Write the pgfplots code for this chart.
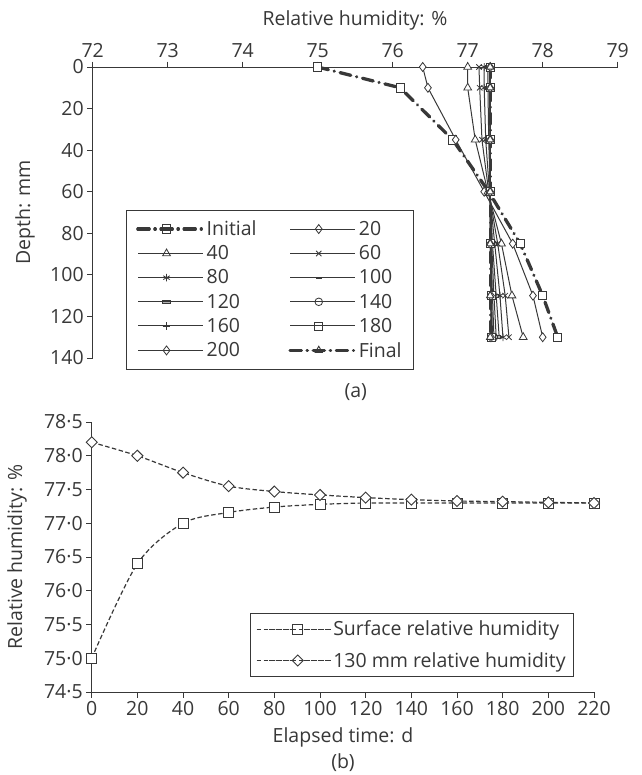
\documentclass[border=0pt]{standalone}
\usepackage{pgfplots}
\pgfplotsset{compat=1.18}
\usepackage{fontspec}
\setmainfont{Open Sans}
\usetikzlibrary{plotmarks}
\definecolor{dg}{HTML}{383838}
\newcommand\fs{\fontsize{19.5}{21}\selectfont}
\pgfplotsset{
  ser/.style={draw=dg, line width=1pt, mark options={solid, fill=white, draw=dg, line width=0.8pt}},
  thick/.style={draw=dg, line width=3.3pt, line cap=round, dash pattern=on 11pt off 6pt on 0.1pt off 6pt, mark size=4.2pt, mark options={solid, fill=white, draw=dg, line width=0.9pt}},
  bser/.style={draw=dg, line width=1.2pt, dash pattern=on 4.5pt off 2.5pt, smooth},
}
\begin{document}
\begin{tikzpicture}[font=\fs,color=dg]
\useasboundingbox (0pt,0pt) rectangle (641pt,-775pt);
% ---------------- (a) ----------------
\begin{axis}[
  at={(92.7pt,-67pt)}, anchor=north west,
  scale only axis, width=525pt, height=291pt,
  xmin=72, xmax=79, ymin=0, ymax=140, y dir=reverse,
  axis x line*=top, axis y line*=left,
  xtick={72,73,...,79}, ytick={0,20,...,140},
  tick align=outside, major tick length=5.5pt,
  axis line style={line width=0.9pt, draw=dg},
  every tick/.style={line width=0.9pt, draw=dg},
  tick label style={font=\fs, text=dg},
  /pgf/number format/assume math mode=true,
  clip=false,
  legend columns=2,
  legend cell align=left,
  legend image code/.code={\draw[mark repeat=2,mark phase=2,#1] plot coordinates {(0pt,0pt)(28.5pt,0pt)(57pt,0pt)}; \path (0pt,0pt) -- (65pt,0pt);},
  legend style={at={(axis description cs:0.0634,0.5086)}, anchor=north west, draw=dg, line width=0.8pt, font=\fs, text=dg, inner xsep=10pt, inner ysep=8.5pt, row sep=4.5pt, nodes={inner sep=2pt}, /tikz/every even column/.append style={column sep=30pt}},
]
\addplot[thick, mark=square*] coordinates {(75.0,0)(76.1,10)(76.8,35)(77.28,60)(77.7,85)(78.0,110)(78.2,130)};
\addlegendentry{Initial}
\addplot[ser, mark=diamond*, mark size=4.5pt] coordinates {(76.4,0)(76.47,10)(76.84,35)(77.22,60)(77.6,85)(77.87,110)(78.0,130)};
\addlegendentry{20}
\addplot[ser, mark=triangle*, mark size=4.5pt] coordinates {(77.0,0)(77.0,10)(77.1,35)(77.27,60)(77.45,85)(77.59,110)(77.74,130)};
\addlegendentry{40}
\addplot[ser, mark=x, mark size=3.8pt] coordinates {(77.15,0)(77.16,10)(77.19,35)(77.28,60)(77.4,85)(77.5,110)(77.55,130)};
\addlegendentry{60}
\addplot[ser, mark=asterisk, mark size=3.8pt] coordinates {(77.22,0)(77.22,10)(77.24,35)(77.29,60)(77.36,85)(77.43,110)(77.47,130)};
\addlegendentry{80}
\addplot[ser, mark=-, mark size=3pt, mark options={solid, draw=dg, line width=2pt}] coordinates {(77.27,0)(77.27,10)(77.28,35)(77.3,60)(77.33,85)(77.38,110)(77.42,130)};
\addlegendentry{100}
\addplot[ser, mark=square*, mark size=3pt, mark options={solid, draw=dg, line width=0.8pt, xscale=1.4, yscale=0.45, fill=gray!60}] coordinates {(77.29,0)(77.29,10)(77.3,35)(77.3,60)(77.32,85)(77.35,110)(77.38,130)};
\addlegendentry{120}
\addplot[ser, mark=o, mark size=3.8pt] coordinates {(77.3,0)(77.3,10)(77.3,35)(77.3,60)(77.31,85)(77.33,110)(77.35,130)};
\addlegendentry{140}
\addplot[ser, mark=+, mark size=3.8pt] coordinates {(77.3,0)(77.3,10)(77.3,35)(77.3,60)(77.31,85)(77.32,110)(77.33,130)};
\addlegendentry{160}
\addplot[ser, mark=square*, mark size=4pt] coordinates {(77.3,0)(77.3,10)(77.3,35)(77.3,60)(77.3,85)(77.31,110)(77.32,130)};
\addlegendentry{180}
\addplot[ser, mark=diamond*, mark size=4.5pt] coordinates {(77.3,0)(77.3,10)(77.3,35)(77.3,60)(77.3,85)(77.31,110)(77.31,130)};
\addlegendentry{200}
\addplot[thick, mark=triangle*] coordinates {(77.3,0)(77.3,10)(77.3,35)(77.3,60)(77.3,85)(77.3,110)(77.3,130)};
\addlegendentry{Final}
\end{axis}
\node at (355pt,-20pt) {Relative humidity: \%};
\node[rotate=90] at (25pt,-212.5pt) {Depth: mm};
\node at (355.7pt,-392pt) {(a)};
% ---------------- (b) ----------------
\begin{axis}[
  at={(91.7pt,-692pt)}, anchor=south west,
  scale only axis, width=502.3pt, height=270pt,
  xmin=0, xmax=220, ymin=74.5, ymax=78.5,
  axis x line*=bottom, axis y line*=left,
  xtick={0,20,...,220},
  ytick={74.5,75,75.5,76,76.5,77,77.5,78,78.5},
  yticklabels={74·5,75·0,75·5,76·0,76·5,77·0,77·5,78·0,78·5},
  tick align=outside, major tick length=5.5pt,
  axis line style={line width=0.9pt, draw=dg},
  every tick/.style={line width=0.9pt, draw=dg},
  tick label style={font=\fs, text=dg},
  /pgf/number format/assume math mode=true,
  clip=false,
  legend cell align=left,
  legend image code/.code={\draw[mark repeat=2,mark phase=2,#1] plot coordinates {(0pt,0pt)(29pt,0pt)(58pt,0pt)}; \path (-12pt,0pt) -- (62pt,0pt);},
  legend style={at={(axis description cs:0.9602,0.2926)}, anchor=north east, draw=dg, line width=0.8pt, font=\fs, text=dg, inner xsep=6pt, inner ysep=5.5pt, row sep=11pt, nodes={inner sep=2pt}},
]
\addplot[bser, mark=square*, mark size=5pt, mark options={solid, fill=white, draw=dg, line width=0.9pt}] coordinates {(0,75.0)(20,76.4)(40,77.0)(60,77.16)(80,77.24)(100,77.28)(120,77.3)(140,77.3)(160,77.3)(180,77.3)(200,77.3)(220,77.3)};
\addlegendentry{Surface relative humidity}
\addplot[bser, mark=square*, mark size=3.9pt, mark options={solid, fill=white, draw=dg, line width=0.9pt, rotate=45}] coordinates {(0,78.2)(20,78.0)(40,77.75)(60,77.55)(80,77.47)(100,77.42)(120,77.38)(140,77.35)(160,77.33)(180,77.32)(200,77.31)(220,77.3)};
\addlegendentry{130 mm relative humidity}
\end{axis}
\node[rotate=90] at (17pt,-557pt) {Relative humidity: \%};
\node at (343pt,-737pt) {Elapsed time: d};
\node at (343pt,-763pt) {(b)};
\end{tikzpicture}
\end{document}
